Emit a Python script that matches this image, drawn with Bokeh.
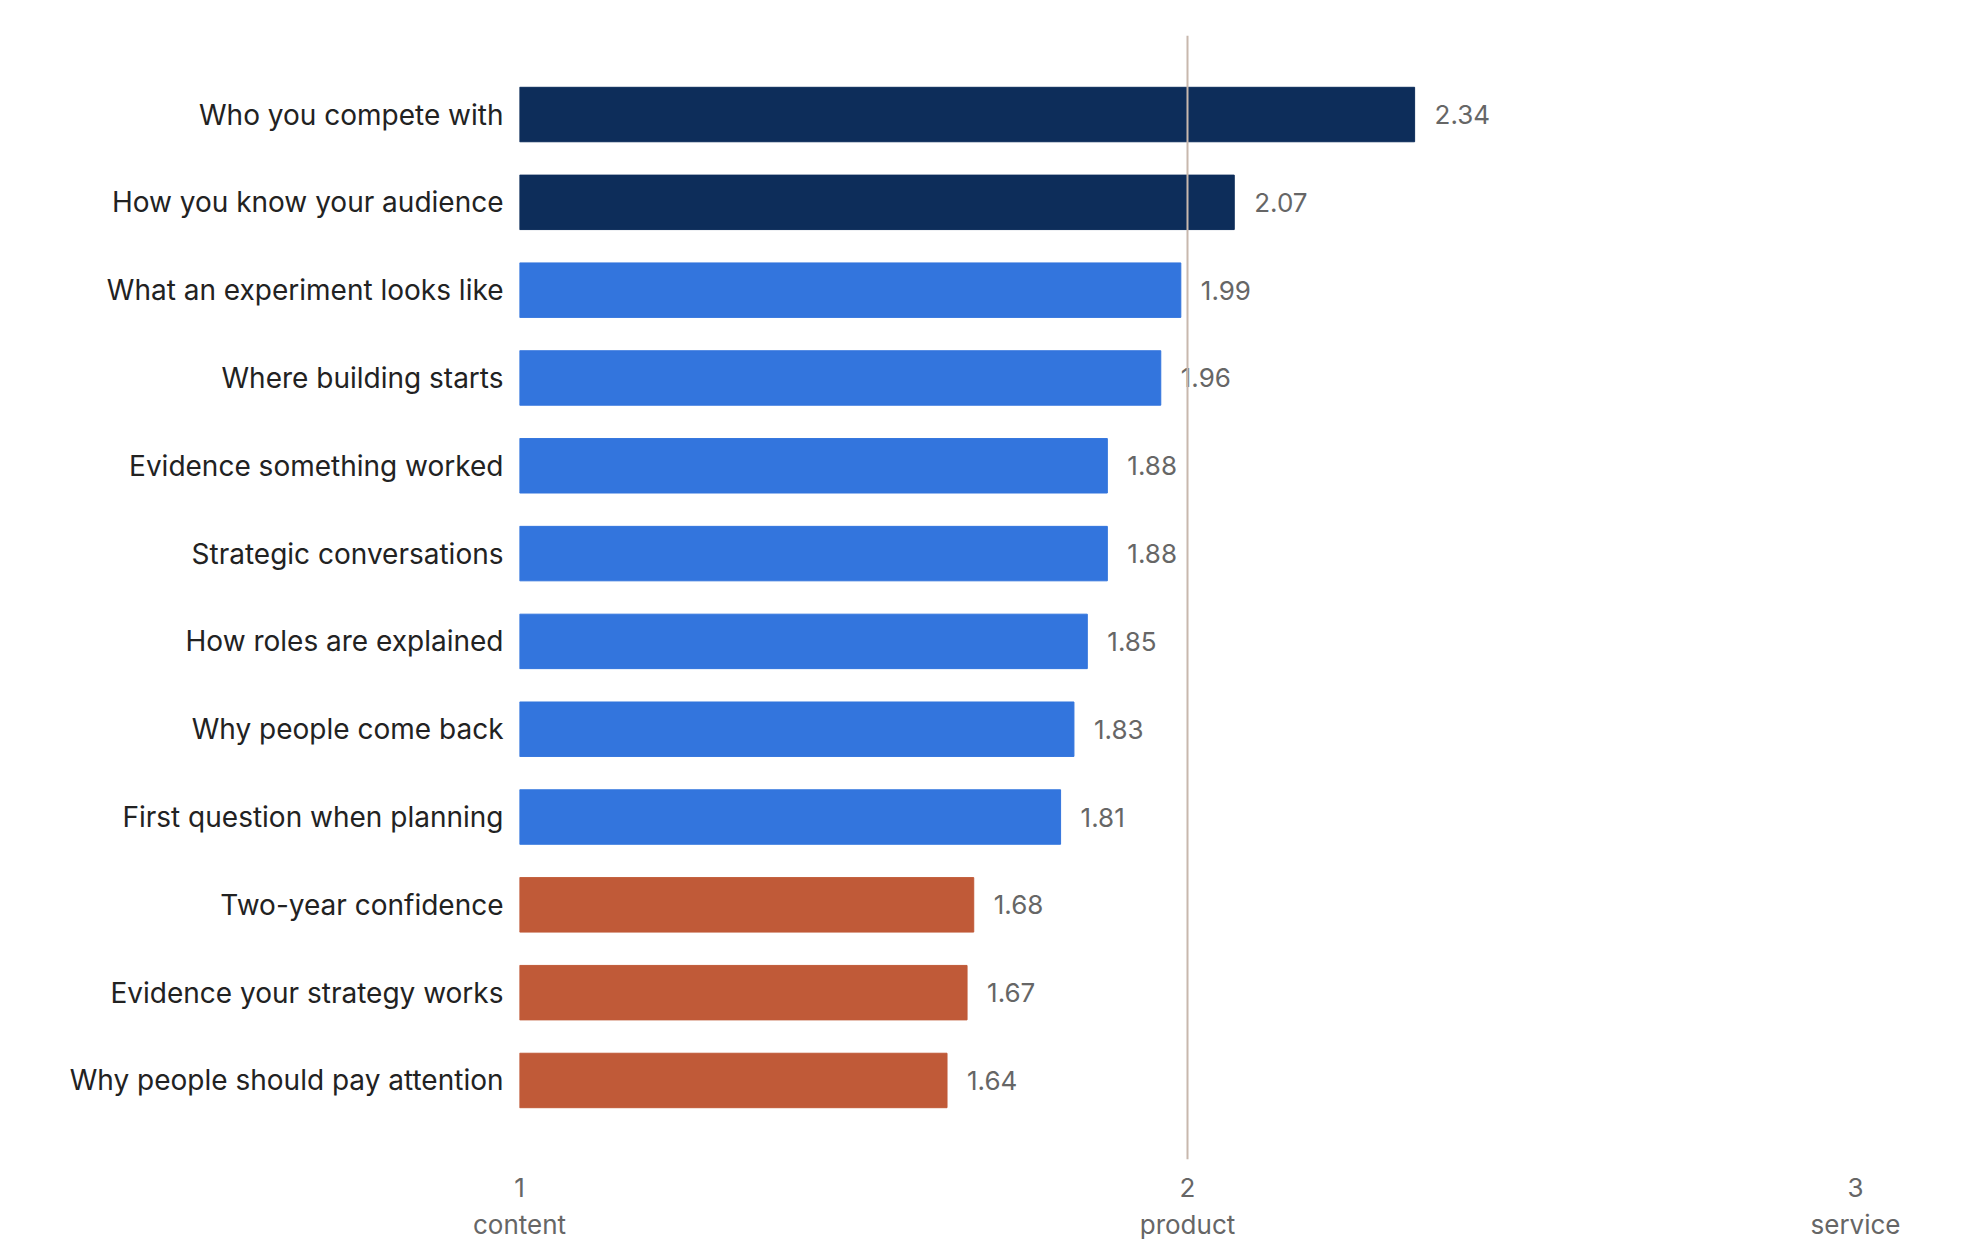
from bokeh.plotting import figure
from bokeh.models import ColumnDataSource, Span, FixedTicker
from bokeh.core.properties import value
from bokeh.embed import file_html
from bokeh.resources import INLINE

categories = ["Who you compete with", "How you know your audience", "What an experiment looks like",
              "Where building starts", "Evidence something worked", "Strategic conversations",
              "How roles are explained", "Why people come back", "First question when planning",
              "Two-year confidence", "Evidence your strategy works", "Why people should pay attention"]
scores = [2.34, 2.07, 1.99, 1.96, 1.88, 1.88, 1.85, 1.83, 1.81, 1.68, 1.67, 1.64]
groups = ["top", "top", "mid", "mid", "mid", "mid", "mid", "mid", "mid", "low", "low", "low"]
x_tick_labels = {1: "1\ncontent", 2: "2\nproduct", 3: "3\nservice"}

palette = {"top": "#0d2d5a", "mid": "#3375dd", "low": "#c05a38"}
n = len(categories)
ypos = [n - 1 - i for i in range(n)]
src = ColumnDataSource(dict(y=ypos, v=scores, c=[palette[g] for g in groups],
                            lab=["%.2f" % s for s in scores]))

p = figure(width=1964, height=1242, x_range=(1, 3), y_range=(-0.9, 11.9),
           output_backend="svg", toolbar_location=None,
           min_border_left=519, min_border_right=109, min_border_top=35, min_border_bottom=72)
p.outline_line_color = None
p.grid.visible = False
p.background_fill_color = "white"

p.add_layout(Span(location=2, dimension="height", line_color="#c8b8ad", line_width=2))
p.hbar(y="y", left=1, right="v", height=0.62, color="c", source=src)
p.text(x="v", y="y", text="lab", source=src, x_offset=20, text_baseline="middle",
       text_font=value("Inter"), text_font_size="26px", text_color="#666666")

p.xaxis.ticker = FixedTicker(ticks=[1, 2, 3])
p.xaxis.major_label_overrides = x_tick_labels
p.xaxis.axis_line_color = None
p.xaxis.major_tick_line_color = None
p.xaxis.minor_tick_line_color = None
p.xaxis.major_label_text_font = "Inter"
p.xaxis.major_label_text_font_size = "26px"
p.xaxis.major_label_text_color = "#666666"
p.xaxis.major_label_standoff = 6

p.yaxis.ticker = FixedTicker(ticks=ypos)
p.yaxis.major_label_overrides = {y: c for y, c in zip(ypos, categories)}
p.yaxis.axis_line_color = None
p.yaxis.major_tick_line_color = None
p.yaxis.minor_tick_line_color = None
p.yaxis.major_label_text_font = "Inter"
p.yaxis.major_label_text_font_size = "28px"
p.yaxis.major_label_text_color = "#222222"
p.yaxis.major_label_standoff = 10

open("out.html", "w").write(file_html(p, INLINE))
